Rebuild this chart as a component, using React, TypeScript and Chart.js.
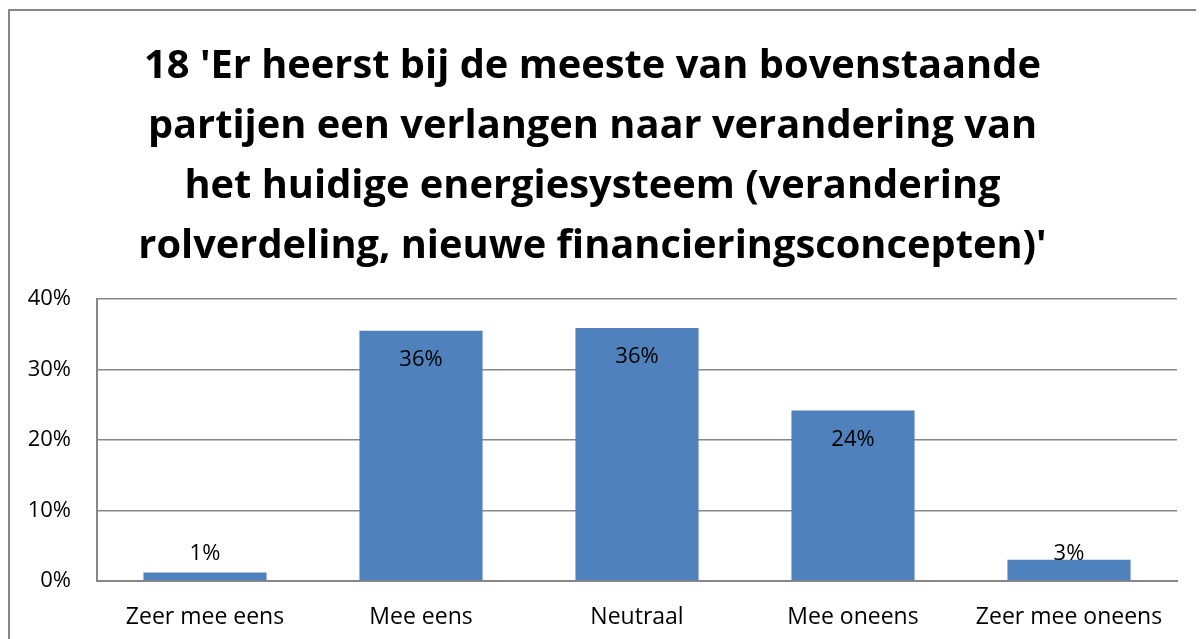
import React, { useEffect, useRef } from "react";
import { Chart, registerables } from "chart.js";

Chart.register(...registerables);

const titleLines = [
  "18 'Er heerst bij de meeste van bovenstaande",
  "partijen een verlangen naar verandering van",
  "het huidige energiesysteem (verandering",
  "rolverdeling, nieuwe financieringsconcepten)'",
];
const categories = ["Zeer mee eens", "Mee eens", "Neutraal", "Mee oneens", "Zeer mee oneens"];
const values = [1.2, 35.5, 35.9, 24.2, 3.0];
const valueLabels = ["1%", "36%", "36%", "24%", "3%"];
const yTicks = [0, 10, 20, 30, 40];

const FONT = "'Open Sans', sans-serif";
const TICK_SIZE = 22;

const frameAndLabels = {
  id: "frameAndLabels",
  beforeDraw(chart: any) {
    const ctx = chart.ctx;
    ctx.save();
    ctx.fillStyle = "#ffffff";
    ctx.fillRect(0, 0, chart.width, chart.height);
    ctx.strokeStyle = "#878787";
    ctx.lineWidth = 2;
    ctx.beginPath();
    ctx.moveTo(1, chart.height + 5);
    ctx.lineTo(1, 2);
    ctx.lineTo(chart.width + 5, 2);
    ctx.stroke();
    ctx.restore();
  },
  afterDatasetsDraw(chart: any) {
    const ctx = chart.ctx;
    const meta = chart.getDatasetMeta(0);
    const yScale = chart.scales.y;
    const base = yScale.getPixelForValue(0);
    ctx.save();
    ctx.font = `${TICK_SIZE}px ${FONT}`;
    ctx.fillStyle = "#000000";
    ctx.textAlign = "center";
    ctx.textBaseline = "middle";
    meta.data.forEach((bar: any, i: number) => {
      const y = Math.min(bar.y + 29, base - 27);
      ctx.fillText(valueLabels[i], bar.x, y);
    });
    ctx.restore();
  },
};

export default function App() {
  const ref = useRef<HTMLCanvasElement>(null);
  useEffect(() => {
    if (!ref.current) return;
    const chart = new Chart(ref.current, {
      type: "bar",
      data: {
        labels: categories,
        datasets: [
          {
            data: values,
            backgroundColor: "#4F81BD",
            borderWidth: 0,
            barPercentage: 0.57,
            categoryPercentage: 1,
          },
        ],
      },
      options: {
        animation: false,
        responsive: false,
        layout: { padding: { left: 0, right: 27, top: 0, bottom: 0 } },
        plugins: {
          legend: { display: false },
          tooltip: { enabled: false },
          title: {
            display: true,
            text: titleLines,
            color: "#000000",
            font: { family: FONT, size: 39.8, weight: "bold", lineHeight: 60 / 39.8 },
            padding: { top: 29, bottom: 22 },
          },
        },
        scales: {
          x: {
            grid: { display: false, drawTicks: false },
            border: { display: true, color: "#878787", width: 2 },
            ticks: { color: "#000000", font: { family: FONT, size: 23 }, padding: 23 },
            afterFit(scale: any) {
              scale.height = 58;
            },
          },
          y: {
            min: 0,
            max: 40,
            afterBuildTicks(scale: any) {
              scale.ticks = yTicks.map((v) => ({ value: v }));
            },
            grid: { color: "#878787", lineWidth: 1.5, drawTicks: false },
            border: { display: true, color: "#878787", width: 2 },
            ticks: {
              color: "#000000",
              font: { family: FONT, size: TICK_SIZE },
              padding: 26,
              callback: (v: any) => `${v}%`,
            },
            afterFit(scale: any) {
              scale.width = 89;
            },
          },
        },
      },
      plugins: [frameAndLabels],
    });
    return () => chart.destroy();
  }, []);
  return (
    <div style={{ width: 1196, height: 631 }}>
      <canvas ref={ref} width={1196} height={631} style={{ display: "block", width: 1196, height: 631 }} />
    </div>
  );
}
